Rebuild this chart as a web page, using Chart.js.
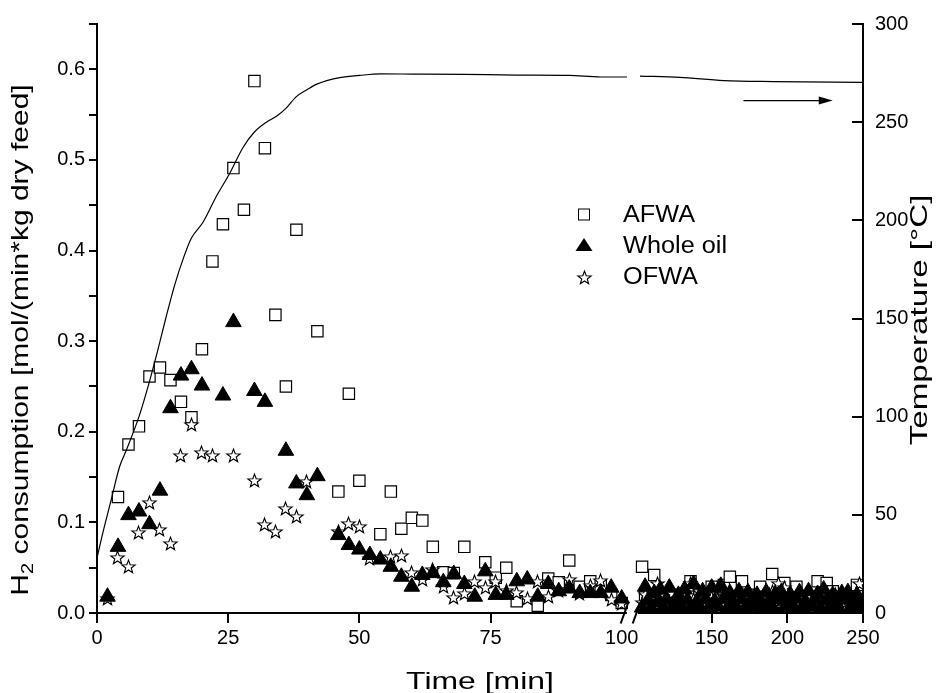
<!DOCTYPE html>
<html>
<head>
<meta charset="utf-8">
<title>H2 consumption</title>
<script src="https://cdn.jsdelivr.net/npm/chart.js@4.4.1/dist/chart.umd.min.js"></script>
<style>
  html, body { margin: 0; padding: 0; background: #fff; }
  #wrap { width: 948px; height: 693px; }
</style>
</head>
<body>
<div id="wrap"><canvas id="h2Chart" width="948" height="693"></canvas></div>
<script>
// ---- data ----
// first part of the run (0-100 min)
const afwaTime = [4, 6, 8, 10, 12, 14, 16, 18, 20, 22, 24, 26, 28, 30, 32, 34, 36, 38, 42, 46, 48, 50,
  54, 56, 58, 60, 62, 64, 66, 68, 70, 74, 76, 78, 80, 84, 86, 88, 90, 92, 94, 96, 98, 100];
const afwaH2 = [0.128, 0.186, 0.206, 0.261, 0.271, 0.257, 0.233, 0.216, 0.291, 0.388, 0.429, 0.491, 0.445,
  0.587, 0.513, 0.329, 0.25, 0.423, 0.311, 0.134, 0.242, 0.146, 0.087, 0.134, 0.093, 0.105, 0.102, 0.073,
  0.045, 0.044, 0.073, 0.056, 0.039, 0.05, 0.013, 0.008, 0.038, 0.034, 0.058, 0.029, 0.035, 0.03, 0.02, 0.011];

const oilTime = [2, 4, 6, 8, 10, 12, 14, 16, 18, 20, 24, 26, 30, 32, 36, 38, 40, 42, 46, 48, 50, 52, 54,
  56, 58, 60, 62, 64, 66, 68, 70, 72, 74, 76, 78, 80, 82, 84, 86, 88, 90, 92, 94, 96, 98, 100];
const oilH2 = [0.018, 0.073, 0.108, 0.112, 0.098, 0.135, 0.226, 0.262, 0.269, 0.251, 0.240, 0.321, 0.245,
  0.233, 0.179, 0.143, 0.130, 0.151, 0.086, 0.075, 0.070, 0.064, 0.059, 0.051, 0.040, 0.029, 0.042, 0.044,
  0.034, 0.043, 0.032, 0.018, 0.046, 0.020, 0.020, 0.035, 0.037, 0.018, 0.032, 0.024, 0.027, 0.022, 0.022,
  0.022, 0.028, 0.016];

const ofwaTime = [2, 4, 6, 8, 10, 12, 14, 16, 18, 20, 22, 26, 30, 32, 34, 36, 38, 40, 46, 48, 50, 52, 56,
  58, 60, 62, 64, 66, 68, 70, 72, 74, 76, 78, 80, 82, 84, 86, 88, 90, 92, 94, 96, 98, 100];
const ofwaH2 = [0.016, 0.061, 0.051, 0.089, 0.122, 0.092, 0.077, 0.174, 0.208, 0.177, 0.174, 0.174, 0.146,
  0.098, 0.090, 0.115, 0.106, 0.145, 0.090, 0.099, 0.095, 0.060, 0.062, 0.064, 0.045, 0.037, 0.048, 0.029,
  0.017, 0.021, 0.035, 0.028, 0.035, 0.025, 0.023, 0.016, 0.035, 0.018, 0.025, 0.037, 0.021, 0.030, 0.036,
  0.015, 0.010];

// second part of the run (after the axis break), same 2 min sampling for all three feeds
const lateTime = [104, 106, 108, 110, 112, 114, 116, 118, 120, 122, 124, 126, 128, 130, 132, 134, 136, 138,
  140, 142, 144, 146, 148, 150, 152, 154, 156, 158, 160, 162, 164, 166, 168, 170, 172, 174, 176, 178, 180,
  182, 184, 186, 188, 190, 192, 194, 196, 198, 200, 202, 204, 206, 208, 210, 212, 214, 216, 218, 220, 222,
  224, 226, 228, 230, 232, 234, 236, 238, 240, 242, 244, 246, 248, 250];
const afwaLate = [0.051, 0.018, 0.012, 0.020, 0.042, 0.015, 0.010, 0.018, 0.012, 0.020,
  0.010, 0.016, 0.012, 0.020, 0.008, 0.015, 0.035, 0.018, 0.010, 0.020,
  0.012, 0.016, 0.008, 0.029, 0.018, 0.012, 0.016, 0.031, 0.020, 0.040,
  0.015, 0.010, 0.018, 0.035, 0.012, 0.020, 0.008, 0.016, 0.012, 0.029,
  0.018, 0.010, 0.016, 0.043, 0.015, 0.020, 0.012, 0.033, 0.016, 0.010,
  0.018, 0.029, 0.012, 0.008, 0.016, 0.012, 0.018, 0.010, 0.035, 0.015,
  0.012, 0.033, 0.016, 0.024, 0.010, 0.015, 0.018, 0.010, 0.016, 0.012,
  0.015, 0.031, 0.010, 0.015];
const oilLate = [0.006, 0.029, 0.014, 0.005, 0.022, 0.012, 0.026, 0.006, 0.015, 0.028,
  0.004, 0.013, 0.020, 0.007, 0.026, 0.014, 0.005, 0.032, 0.012, 0.006,
  0.024, 0.015, 0.005, 0.028, 0.013, 0.007, 0.030, 0.016, 0.004, 0.022,
  0.012, 0.006, 0.024, 0.015, 0.005, 0.023, 0.013, 0.007, 0.020, 0.014,
  0.005, 0.023, 0.012, 0.006, 0.021, 0.015, 0.023, 0.005, 0.013, 0.020,
  0.006, 0.016, 0.023, 0.005, 0.012, 0.024, 0.007, 0.015, 0.021, 0.005,
  0.026, 0.014, 0.006, 0.020, 0.012, 0.005, 0.022, 0.015, 0.023, 0.006,
  0.013, 0.020, 0.005, 0.014];
const ofwaLate = [0.012, 0.020, 0.008, 0.015, 0.024, 0.033, 0.010, 0.018, 0.006, 0.014,
  0.022, 0.010, 0.016, 0.008, 0.020, 0.012, 0.033, 0.015, 0.008, 0.024,
  0.012, 0.018, 0.006, 0.017, 0.010, 0.015, 0.008, 0.020, 0.019, 0.012,
  0.006, 0.016, 0.010, 0.020, 0.008, 0.014, 0.012, 0.006, 0.018, 0.010,
  0.015, 0.008, 0.020, 0.024, 0.012, 0.033, 0.015, 0.028, 0.010, 0.006,
  0.016, 0.012, 0.020, 0.008, 0.014, 0.010, 0.018, 0.006, 0.015, 0.012,
  0.022, 0.008, 0.016, 0.010, 0.020, 0.006, 0.014, 0.012, 0.018, 0.008,
  0.015, 0.010, 0.033, 0.012];

// reactor temperature (right axis)
const tempTimeEarly = [0, 1.1, 2.7, 4.3, 5.6, 8, 9.9, 11.6, 13.1, 14.8, 16.5, 18, 20.2, 22.7, 25.3, 27.8,
  30, 32.3, 34.2, 36, 38, 40, 42, 46, 50, 54, 60, 70, 80, 90, 96, 101];
const tempEarly = [28, 40.7, 57.6, 74.5, 83, 100, 117, 134, 150, 167, 181, 191, 199, 212, 224, 237,
  245, 250, 253, 257, 263, 266.5, 269.5, 272.6, 273.8, 274.6, 274.5, 274.3, 274, 273.8, 273, 273];
const tempTimeLate = [102.6, 129, 158, 191, 250];
const tempLate = [273.5, 272.8, 271.2, 270.7, 270.3];

// ticks
const timeTicks = [0, 25, 50, 75, 100, 150, 200, 250];
const h2Ticks = [0, 0.05, 0.1, 0.15, 0.2, 0.25, 0.3, 0.35, 0.4, 0.45, 0.5, 0.55, 0.6, 0.65];

// arrow pointing to the temperature axis
const arrowTime = [171, 230];
const arrowTemp = 261;

const FONT = "'Liberation Sans', Arial, Helvetica, sans-serif";

// ---- broken time axis: 0-100 takes the left part, 100-250 is squeezed on the right ----
const leftShare = 0.685;    // axis fraction used by 0..100
const rightStart = 0.7037;  // axis fraction where the 100 of the right part would sit
const breakEnd = 101;       // end of the left piece
const breakStart = 101.3;   // start of the right piece

class BrokenTimeScale extends Chart.LinearScale {
  getPixelForValue(value) {
    if (value === null || value === undefined || isNaN(value)) return NaN;
    let dec;
    if (value <= breakEnd) dec = value / 100 * leftShare;
    else dec = rightStart + (value - 100) / 150 * (1 - rightStart);
    return this.getPixelForDecimal(dec);
  }
  getValueForPixel(pixel) {
    const dec = this.getDecimalForPixel(pixel);
    if (dec <= leftShare) return dec / leftShare * 100;
    return 100 + (dec - rightStart) / (1 - rightStart) * 150;
  }
}
BrokenTimeScale.id = 'brokenTime';
BrokenTimeScale.defaults = Chart.LinearScale.defaults;
Chart.register(BrokenTimeScale);

function toPoints(xs, ys) {
  return xs.map((x, i) => ({ x: x, y: ys[i] }));
}

// open star marker (Chart.js has no 5 point star)
function makeStar(size, outer, inner) {
  const c = document.createElement('canvas');
  c.width = size; c.height = size;
  const g = c.getContext('2d');
  g.beginPath();
  for (let i = 0; i < 10; i++) {
    const r = i % 2 === 0 ? outer : inner;
    const a = -Math.PI / 2 + i * Math.PI / 5;
    const px = size / 2 + r * Math.cos(a), py = size / 2 + 0.6 + r * Math.sin(a);
    if (i === 0) g.moveTo(px, py); else g.lineTo(px, py);
  }
  g.closePath();
  g.fillStyle = '#fff';
  g.fill();
  g.strokeStyle = '#000';
  g.lineWidth = 1.1;
  g.stroke();
  return c;
}
const starImg = makeStar(17, 7, 2.9);

// text stretched along its baseline, as in the original export
function stretchedText(ctx, text, x, y, angle, font, stretch) {
  ctx.save();
  ctx.translate(x, y);
  ctx.rotate(angle);
  ctx.scale(stretch, 1);
  ctx.font = font;
  ctx.textAlign = 'center';
  ctx.fillText(text, 0, 0);
  ctx.restore();
}

// keep the star bitmaps crisp
const crispMarkers = {
  id: 'crispMarkers',
  beforeDatasetsDraw(chart) { chart.ctx.imageSmoothingEnabled = false; },
  afterDatasetsDraw(chart) { chart.ctx.imageSmoothingEnabled = true; }
};

const decor = {
  id: 'decor',
  afterDraw(chart) {
    const { ctx, chartArea: area, scales } = chart;
    const x = scales.x, y2 = scales.y2;
    ctx.save();
    ctx.strokeStyle = '#000';
    ctx.fillStyle = '#000';
    ctx.lineWidth = 2;

    // x axis line in two pieces + break marks
    const yb = area.bottom;
    const xb = x.getPixelForValue(breakEnd);
    const xc = x.getPixelForValue(breakStart);
    ctx.beginPath();
    ctx.moveTo(area.left - 1, yb); ctx.lineTo(xb, yb);
    ctx.moveTo(xc, yb); ctx.lineTo(area.right + 1, yb);
    [xb - 2.5, xc - 1.5].forEach(cx => {
      ctx.moveTo(cx - 3.8, yb + 10.5);
      ctx.lineTo(cx + 3.8, yb - 10.5);
    });
    // right axis ticks point inward
    y2.ticks.forEach(t => {
      const py = Math.round(y2.getPixelForValue(t.value));
      ctx.moveTo(area.right - 11, py);
      ctx.lineTo(area.right, py);
    });
    ctx.stroke();

    // arrow towards the temperature axis
    const ax0 = x.getPixelForValue(arrowTime[0]);
    const ax1 = x.getPixelForValue(arrowTime[1]);
    const ay = y2.getPixelForValue(arrowTemp);
    ctx.lineWidth = 1.3;
    ctx.beginPath();
    ctx.moveTo(ax0, ay); ctx.lineTo(ax1 - 10, ay);
    ctx.stroke();
    ctx.beginPath();
    ctx.moveTo(ax1, ay); ctx.lineTo(ax1 - 14, ay - 4); ctx.lineTo(ax1 - 14, ay + 4);
    ctx.closePath();
    ctx.fill();

    // legend inside the plot
    const lx = 584, tx = 623;
    const rows = [{ y: 214.5, base: 222, label: 'AFWA' },
                  { y: 245, base: 253, label: 'Whole oil' },
                  { y: 277, base: 284, label: 'OFWA' }];
    ctx.lineWidth = 1;
    ctx.fillStyle = '#fff';
    ctx.fillRect(lx - 5.5, rows[0].y - 5.5, 11, 11);
    ctx.strokeRect(lx - 5.5, rows[0].y - 5.5, 11, 11);
    ctx.fillStyle = '#000';
    ctx.beginPath();
    ctx.moveTo(lx, rows[1].y - 7); ctx.lineTo(lx + 8.5, rows[1].y + 6); ctx.lineTo(lx - 8.5, rows[1].y + 6);
    ctx.closePath(); ctx.fill();
    ctx.drawImage(starImg, Math.round(lx - starImg.width / 2), Math.round(rows[2].y - starImg.height / 2));
    rows.forEach(r => {
      ctx.save();
      ctx.translate(tx, r.base);
      ctx.scale(1.1, 1);
      ctx.font = '23px ' + FONT;
      ctx.textAlign = 'left';
      ctx.fillText(r.label, 0, 0);
      ctx.restore();
    });

    // axis titles
    stretchedText(ctx, 'Time [min]', 480, 689, 0, '24px ' + FONT, 1.33);
    stretchedText(ctx, 'Temperature [°C]', 927, 320, -Math.PI / 2, '24px ' + FONT, 1.38);

    // left title with subscript
    const main = '24px ' + FONT, sub = '16px ' + FONT, stretch = 1.25;
    const p1 = 'H', p2 = '2', p3 = ' consumption [mol/(min*kg dry feed]';
    ctx.font = main; const w1 = ctx.measureText(p1).width, w3 = ctx.measureText(p3).width;
    ctx.font = sub; const w2 = ctx.measureText(p2).width;
    const total = w1 + w2 + w3;
    ctx.save();
    ctx.translate(28, 340);
    ctx.rotate(-Math.PI / 2);
    ctx.scale(stretch, 1);
    ctx.textAlign = 'left';
    let cx = -total / 2;
    ctx.font = main; ctx.fillText(p1, cx, 0); cx += w1;
    ctx.font = sub; ctx.fillText(p2, cx, 5); cx += w2;
    ctx.font = main; ctx.fillText(p3, cx, 0);
    ctx.restore();

    ctx.restore();
  }
};

const tickFont = { family: FONT, size: 20 };

new Chart(document.getElementById('h2Chart'), {
  type: 'scatter',
  data: {
    datasets: [
      {
        label: 'Temperature',
        data: toPoints(tempTimeEarly, tempEarly).concat([{ x: 101.8, y: null }], toPoints(tempTimeLate, tempLate)),
        yAxisID: 'y2',
        showLine: true,
        borderColor: '#000',
        borderWidth: 1.2,
        pointRadius: 0,
        cubicInterpolationMode: 'monotone',
        spanGaps: false,
        order: 0
      },
      {
        label: 'Whole oil',
        data: toPoints(oilTime, oilH2).concat(toPoints(lateTime, oilLate)),
        pointStyle: 'triangle',
        pointRadius: 9,
        backgroundColor: '#000',
        borderColor: '#000',
        borderWidth: 1,
        order: 1
      },
      {
        label: 'OFWA',
        data: toPoints(ofwaTime, ofwaH2).concat(toPoints(lateTime, ofwaLate)),
        pointStyle: starImg,
        pointRadius: 8,
        order: 2
      },
      {
        label: 'AFWA',
        data: toPoints(afwaTime, afwaH2).concat(toPoints(lateTime, afwaLate)),
        pointStyle: 'rect',
        pointRadius: 8,
        backgroundColor: '#fff',
        borderColor: '#000',
        borderWidth: 1.2,
        order: 3
      }
    ]
  },
  options: {
    responsive: false,
    animation: false,
    events: [],
    layout: { padding: { top: 21, left: 0, right: 0, bottom: 0 } },
    plugins: { legend: { display: false }, tooltip: { enabled: false } },
    scales: {
      x: {
        type: 'brokenTime',
        min: 0,
        max: 250,
        afterBuildTicks: s => { s.ticks = timeTicks.map(v => ({ value: v })); },
        afterFit: s => { s.height = 80; },
        grid: {
          display: true, drawOnChartArea: false, drawTicks: true, tickLength: 10, lineWidth: 2,
          color: c => (c.tick && c.tick.value === 100 ? 'rgba(0,0,0,0)' : '#000')
        },
        border: { display: false },
        ticks: { font: tickFont, color: '#000', padding: 3, autoSkip: false, maxRotation: 0,
          callback: v => String(v) }
      },
      y: {
        position: 'left',
        min: 0,
        max: 0.65,
        afterBuildTicks: s => { s.ticks = h2Ticks.map(v => ({ value: v })); },
        afterFit: s => { s.width = 97; },
        grid: { display: true, drawOnChartArea: false, drawTicks: true, tickLength: 8, lineWidth: 2, color: '#000' },
        border: { display: true, color: '#000', width: 2 },
        ticks: { font: tickFont, color: '#000', padding: 4,
          callback: v => (Math.round(v * 100) % 10 === 0 ? v.toFixed(1) : '') }
      },
      y2: {
        position: 'right',
        min: 0,
        max: 300,
        afterFit: s => { s.width = 85; },
        grid: { display: true, drawOnChartArea: false, drawTicks: false },
        border: { display: true, color: '#000', width: 2 },
        ticks: { font: tickFont, color: '#000', padding: 12, stepSize: 50 }
      }
    }
  },
  plugins: [crispMarkers, decor]
});
</script>
</body>
</html>
